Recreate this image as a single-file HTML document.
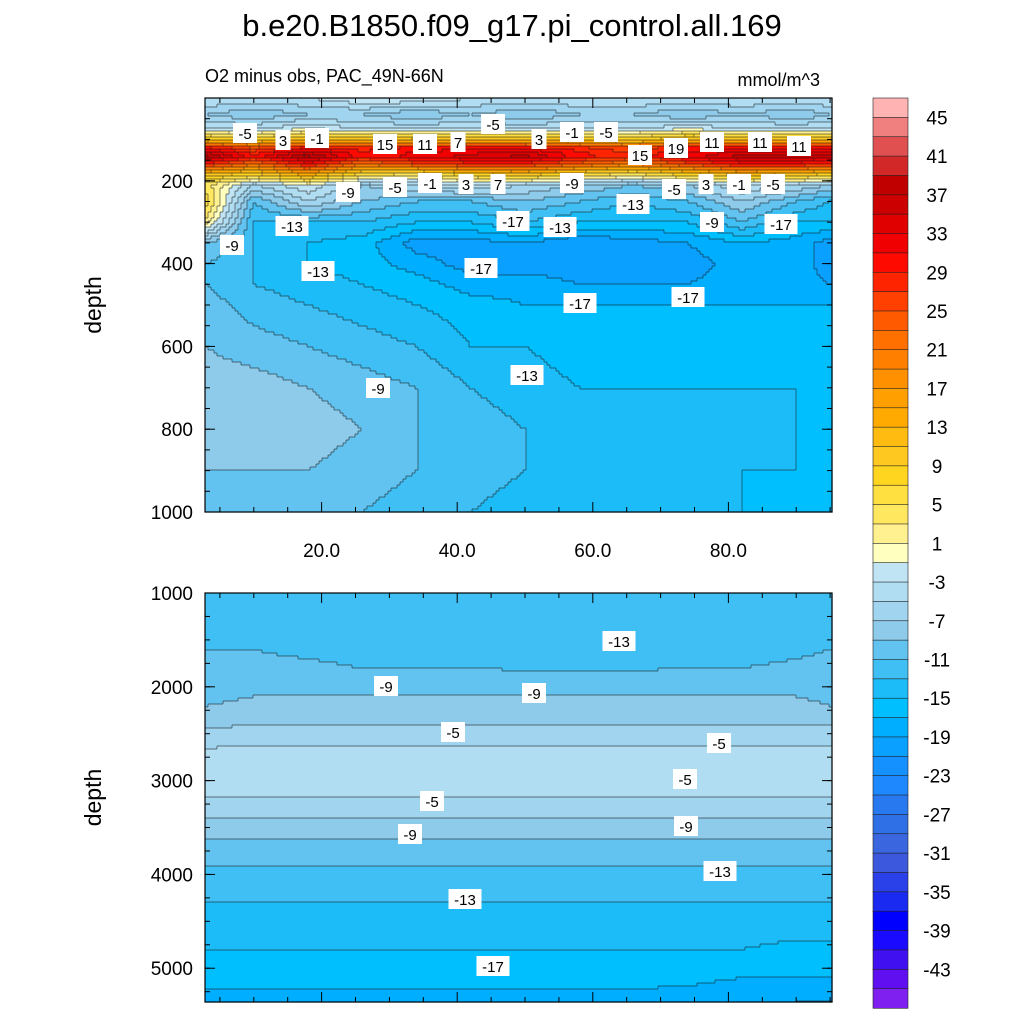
<!DOCTYPE html>
<html><head><meta charset="utf-8"><style>
body{margin:0;background:#fff}
svg{display:block;font-family:"Liberation Sans",sans-serif}
</style></head><body>
<svg id="chart" width="1024" height="1024" viewBox="0 0 1024 1024" xmlns="http://www.w3.org/2000/svg">
<rect width="1024" height="1024" fill="#fff"/>
<text x="512" y="36" font-size="31" text-anchor="middle">b.e20.B1850.f09_g17.pi_control.all.169</text>
<text x="205" y="82" font-size="18">O2 minus obs, PAC_49N-66N</text>
<text x="820" y="86" font-size="18" text-anchor="end">mmol/m^3</text>
<g id="topPanel"></g>
<g id="botPanel"></g>
<g id="cbar"></g>
<g id="labels"></g>
</svg>
<script>
const NS="http://www.w3.org/2000/svg";
const xCols=[3,10,18,26,34,42,50,58,66,74,82,90,95];
const topDepths=[0,40,75,100,120,140,160,185,210,250,300,350,400,450,500,600,700,800,900,1000];
const topValues=[
[-3,-3,-3,-1,-1,-3,-3,-3,-3,-3,-3,-3,-3],
[-7,-9,-7,-7,-9,-7,-9,-7,-7,-9,-7,-9,-7],
[-3,-3,-1,-3,-3,-3,-3,-3,-3,-1,-3,-3,-3],
[10,8,12,12,10,12,12,10,8,12,12,12,12],
[30,25,30,28,30,30,30,28,25,30,30,30,30],
[38,30,38,30,32,34,36,30,28,32,36,36,36],
[28,22,30,22,26,28,28,24,20,26,30,30,28],
[10,8,14,6,4,8,10,6,4,8,12,10,8],
[4,-5,-1,-7,-5,-3,-5,-7,-9,-7,-3,-5,-7],
[6,-11,-5,-9,-11,-11,-9,-11,-13,-11,-7,-11,-13],
[2,-13,-13,-13,-15,-15,-13,-15,-15,-15,-11,-15,-15],
[-9,-13,-15,-16,-20,-20,-19,-21,-20,-19,-17,-18,-20],
[-11,-13,-15,-16,-18,-20,-20,-20,-21,-20,-18,-18,-20],
[-11,-13,-14,-15,-16,-18,-18,-19,-19,-19,-18,-18,-19],
[-10,-12,-13,-14,-15,-16,-17,-17,-17,-17,-17,-17,-17],
[-9,-10,-11,-12,-13,-15,-15,-16,-16,-16,-16,-16,-16],
[-8,-8,-9,-10,-11,-13,-14,-15,-15,-15,-15,-15,-15],
[-8,-8,-8,-9,-11,-12,-13,-14,-14,-14,-14,-15,-15],
[-9,-9,-9,-10,-11,-12,-13,-14,-14,-14,-15,-15,-16],
[-10,-11,-11,-11,-12,-13,-14,-14,-14,-14,-15,-16,-16]];
const botDepths=[1000,1300,1600,1900,2100,2300,2500,2700,2900,3100,3300,3500,3700,3900,4200,4500,4800,5100,5360];
const botValues=[
[-12,-12,-12,-12,-12,-12,-12,-12,-12,-13,-13,-12,-12],
[-11,-12,-12,-12.5,-12.5,-12.5,-12.5,-13,-13,-13,-12.5,-12,-12],
[-11,-11,-11.5,-12,-12,-12,-12.5,-12.5,-12.5,-12,-12,-11.5,-11],
[-10,-10,-10,-10.5,-10.5,-10.5,-10.5,-10.5,-10.5,-10.5,-10.5,-10,-10],
[-9.5,-9,-9,-9,-9,-9,-9,-9,-9,-9,-9,-9,-9.5],
[-8.5,-8,-8,-8,-8,-8,-8,-8,-8,-8,-8,-8,-8.5],
[-6.5,-6,-6,-6,-6,-6,-6,-6,-6,-6,-6,-6,-6],
[-4.5,-4.5,-4.5,-4.5,-4.5,-4.5,-4.5,-4.5,-4.5,-4.5,-4.5,-4.5,-4.5],
[-4,-4,-4,-4,-4,-4,-4,-4,-4,-4,-4,-4,-4],
[-4.5,-4.5,-4.5,-4.5,-4.5,-4.5,-4.5,-4.5,-4.5,-4.5,-4.5,-4.5,-4.5],
[-6,-6,-6,-6,-6,-6,-6,-6,-6,-6,-6,-6,-6],
[-8,-8,-8,-8,-8,-8,-8,-8,-8,-8,-8,-8,-8],
[-9.5,-9.5,-9.5,-9.5,-9.5,-9.5,-9.5,-9.5,-9.5,-9.5,-9.5,-9.5,-9.5],
[-11,-11,-11,-11,-11,-11,-11,-11,-11,-11,-11,-11,-11],
[-12.5,-12.5,-12.5,-12.5,-12.5,-12.5,-12.5,-12.5,-12.5,-12.5,-12.5,-12.5,-12.5],
[-14,-14,-14,-14,-14,-14,-14,-14,-14,-14,-14,-14,-14],
[-15,-15,-15,-15,-15,-15,-15,-15,-15,-15,-15,-15.5,-15.5],
[-16.5,-16.5,-16.5,-16.5,-16.5,-16.5,-16.5,-16.5,-16.5,-16.5,-17,-17,-17],
[-17.5,-17.5,-17.5,-17.5,-17.5,-17.5,-17.5,-17.5,-17.5,-18,-18.5,-19,-19]];
const xTicks=[20,40,60,80];
const xTickLabels=["20.0","40.0","60.0","80.0"];
const topYTicks=[200,400,600,800,1000];
const botYTicks=[1000,2000,3000,4000,5000];
const cbarLabels=[45,41,37,33,29,25,21,17,13,9,5,1,-3,-7,-11,-15,-19,-23,-27,-31,-35,-39,-43];
const colors=["#ffb3b3","#f08080","#e05050","#d22828","#c00000","#cc0000","#e00000","#f00000","#ff0a00","#ff2400","#ff4000","#ff5a00","#ff7000","#ff8000","#ff9000","#ffa000","#ffaa00","#ffbb10","#ffc820","#ffd520","#ffe040","#ffe860","#fff090","#ffffc0","#c0e4f4","#b0ddf2","#a0d4ef","#8ecaea","#62c3f0","#40bff4","#1cbcf8","#00bfff","#00aeff","#0aa0ff","#1490ff","#1e88ff","#2878f0","#3070e6","#3a66e0","#3c58dc","#2a40e8","#1a2af0","#0000ff","#1a0aff","#4010f0","#6010f0","#8020f0"];
function colorFor(v){let i=Math.floor((49-v)/2);i=Math.max(1,Math.min(47,i));return colors[i-1];}
const L=205,R=832;
const xPx=v=>186+v*6.78;
const pxX=p=>(p-186)/6.78;
function interp(arr,v){let i=0;while(i<arr.length-2&&v>arr[i+1])i++;let t=(v-arr[i])/(arr[i+1]-arr[i]);t=Math.max(0,Math.min(1,t));return [i,t];}
function sample(depths,vals,x,d){const r1=interp(xCols,x);const r2=interp(depths,d);const j=r1[0],tx=r1[1],i=r2[0],ty=r2[1];
const a=vals[i][j],b=vals[i][j+1],c=vals[i+1][j],e=vals[i+1][j+1];
return (a*(1-tx)+b*tx)*(1-ty)+(c*(1-tx)+e*tx)*ty;}
function el(tag,attrs,parent){const e=document.createElementNS(NS,tag);for(const k in attrs)e.setAttribute(k,attrs[k]);parent.appendChild(e);return e;}
function drawPanel(g,depths,vals,T,B,d0,d1,name){
const yPx=d=>T+(d-d0)/(d1-d0)*(B-T);
const pxD=p=>d0+(p-T)/(B-T)*(d1-d0);
const step=3;let prevRow=null;let pathD='';
for(let y=T;y<B;y+=step){const d=pxD(y+step/2);let runStart=L,runCol=null;const row=[];
for(let x=L;x<=R;x+=step){const c=x<R?colorFor(sample(depths,vals,pxX(Math.min(x+step/2,R)),d)):null;row.push(c);
if(c!==runCol){if(runCol){const r=el('rect',{x:runStart,y:y,width:Math.min(x,R)-runStart+0.6,height:Math.min(step,B-y)+0.6,fill:runCol},g);


if(c)pathD+='M'+x+' '+y+'v'+Math.min(step,B-y);}
runStart=x;runCol=c;}}
if(prevRow){for(let k=0;k<row.length-1;k++){if(row[k]!==prevRow[k]){const x=L+k*step;pathD+='M'+x+' '+y+'h'+Math.min(step,R-x);}}}
prevRow=row;}
const p=el('path',{d:pathD,stroke:'#1a1a1a','stroke-width':0.7,'stroke-opacity':0.75,fill:'none'},g);


const f=el('rect',{x:L,y:T,width:R-L,height:B-T,fill:'none',stroke:'#000','stroke-width':1.2},g);


return yPx;}
const topG=document.getElementById('topPanel'),botG=document.getElementById('botPanel');
const tY=drawPanel(topG,topDepths,topValues,98,512,0,1000,'top');
const bY=drawPanel(botG,botDepths,botValues,593,1002,1000,5360,'bottom');
function ticks(g,T,B,yPx,yt,showX){
for(let v=5;v<=95;v+=5){const x=xPx(v);if(x<L||x>R)continue;const len=v%20===0?10:5;
el('line',{x1:x,x2:x,y1:B,y2:B-len,stroke:'#000'},g);el('line',{x1:x,x2:x,y1:T,y2:T+len,stroke:'#000'},g);}
yt.forEach(v=>{const y=yPx(v);el('line',{x1:L,x2:L+10,y1:y,y2:y,stroke:'#000'},g);el('line',{x1:R,x2:R-10,y1:y,y2:y,stroke:'#000'},g);
const t=el('text',{x:L-12,y:y+7,'font-size':19,'text-anchor':'end'},g);t.textContent=v;

});
const minor=(yt[1]-yt[0])/4;
for(let v=yt[0]-4*minor;v<=yt[yt.length-1]+4*minor;v+=minor){const y=yPx(v);if(y<T||y>B)continue;
el('line',{x1:L,x2:L+5,y1:y,y2:y,stroke:'#000'},g);el('line',{x1:R,x2:R-5,y1:y,y2:y,stroke:'#000'},g);}
if(showX)xTicks.forEach((v,i)=>{const t=el('text',{x:xPx(v),y:B+45,'font-size':19,'text-anchor':'middle'},g);t.textContent=xTickLabels[i];

});
const a=el('text',{x:0,y:0,'font-size':23,'text-anchor':'middle',transform:'translate(101,'+((T+B)/2)+') rotate(-90)'},g);a.textContent='depth';

}
ticks(topG,98,512,tY,topYTicks,true);
ticks(botG,593,1002,bY,botYTicks,false);
const cb=document.getElementById('cbar');const cT=98,cH=(1008-98)/47;
colors.forEach((c,i)=>{const r=el('rect',{x:873,y:cT+i*cH,width:35,height:cH+0.3,fill:c,stroke:'#222','stroke-width':0.6},cb);

});
cbarLabels.forEach(v=>{const i=(47-v)/2;const t=el('text',{x:937,y:cT+i*cH+7,'font-size':19,'text-anchor':'middle'},cb);t.textContent=v;

});
const labs=[[245,133,"-5"],[283,140,"3"],[317,138,"-1"],[385,144,"15"],[425,144,"11"],[458,142,"7"],[493,124,"-5"],[539,139,"3"],[572,132,"-1"],[606,132,"-5"],[640,155,"15"],[676,148,"19"],[712,142,"11"],[760,142,"11"],[799,146,"11"],
[395,187,"-5"],[430,183,"-1"],[466,184,"3"],[498,184,"7"],[572,183,"-9"],[348,192,"-9"],[674,189,"-5"],[706,184,"3"],[739,184,"-1"],[773,184,"-5"],
[292,226,"-13"],[633,204,"-13"],[513,221,"-17"],[560,227,"-13"],[712,222,"-9"],[781,224,"-17"],[232,245,"-9"],[318,271,"-13"],[481,268,"-17"],[580,303,"-17"],[688,297,"-17"],[527,375,"-13"],[378,388,"-9"],
[619,641,"-13"],[386,686,"-9"],[534,693,"-9"],[453,732,"-5"],[719,743,"-5"],[685,779,"-5"],[432,801,"-5"],[686,826,"-9"],[410,834,"-9"],[720,871,"-13"],[465,899,"-13"],[493,966,"-17"]];
const lg=document.getElementById('labels');
labs.forEach(l=>{const w=l[2].length*9+6;
const r=el('rect',{x:l[0]-w/2,y:l[1]-10,width:w,height:20,fill:'#fff'},lg);


const t=el('text',{x:l[0],y:l[1]+6,'font-size':15,'text-anchor':'middle'},lg);t.textContent=l[2];

});
</script>
</body></html>
